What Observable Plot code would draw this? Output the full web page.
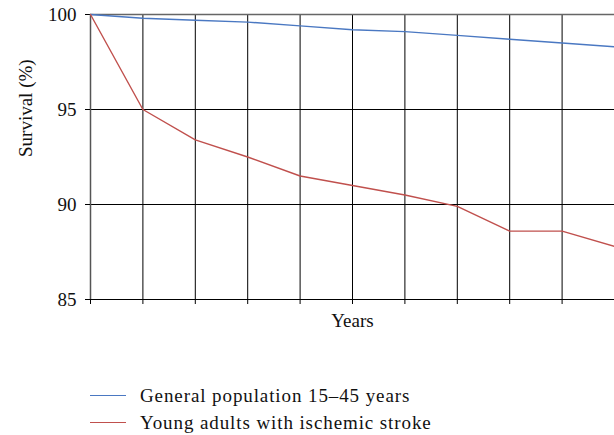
<!DOCTYPE html>
<html>
<head>
<meta charset="utf-8">
<script src="https://cdn.jsdelivr.net/npm/d3@7"></script>
<script src="https://cdn.jsdelivr.net/npm/@observablehq/plot@0.6"></script>
<style>
  html, body { margin: 0; padding: 0; background: #fff; }
  #wrap { position: relative; width: 614px; height: 435px; font-family: "Liberation Serif", "DejaVu Serif", serif; }
  #legend { position: absolute; left: 90px; top: 382px; font-size: 19px; letter-spacing: 0.9px; color: #111; font-family: "Liberation Serif", "DejaVu Serif", serif; }
  .item { display: flex; align-items: center; height: 27px; white-space: nowrap; }
  .swatch { width: 36px; height: 0; border-top: 1.4px solid; margin-right: 14px; }
  svg text { font-family: "Liberation Serif", "DejaVu Serif", serif; }
</style>
</head>
<body>
<div id="wrap">
  <div id="chart"></div>
  <div id="legend"></div>
</div>
<script>
const years = [0, 1, 2, 3, 4, 5, 6, 7, 8, 9, 10];
const generalPopulation = [100, 99.8, 99.7, 99.6, 99.4, 99.2, 99.1, 98.9, 98.7, 98.5, 98.3];
const strokePatients = [100, 95.0, 93.4, 92.5, 91.5, 91.0, 90.5, 89.9, 88.6, 88.6, 87.8];
const yTicks = [85, 90, 95, 100];
const seriesNames = ["General population 15\u201345 years", "Young adults with ischemic stroke"];
const seriesColors = ["#4a78c2", "#c0504d"];

const data = [
  ...years.map((t, i) => ({year: t, value: generalPopulation[i], series: seriesNames[0]})),
  ...years.map((t, i) => ({year: t, value: strokePatients[i], series: seriesNames[1]}))
];

const chart = Plot.plot({
  width: 614,
  height: 345,
  marginLeft: 90,
  marginRight: 0,
  marginTop: 14,
  marginBottom: 46,
  style: {fontFamily: "'Liberation Serif', 'DejaVu Serif', serif", fontSize: "18px", color: "#111", background: "#fff"},
  x: {domain: [0, 10], label: null},
  y: {domain: [85, 100], label: null},
  color: {domain: seriesNames, range: seriesColors},
  marks: [
    Plot.gridX(years, {stroke: "#000", strokeOpacity: 1, strokeWidth: 1}),
    Plot.gridY(yTicks, {stroke: "#000", strokeOpacity: 1, strokeWidth: 1}),
    Plot.ruleY([100], {stroke: "#666", strokeWidth: 1.5}),
    Plot.ruleX([0], {stroke: "#555", strokeWidth: 1.5}),
    Plot.axisY({ticks: yTicks, tickSize: 5, tickPadding: 9, fontSize: 19, label: null, stroke: "#000"}),
    Plot.axisX({ticks: years, tickSize: 5, tickFormat: () => "", label: null, stroke: "#000"}),
    Plot.line(data, {x: "year", y: "value", stroke: "series", strokeWidth: 1.4}),
    Plot.text(["Survival (%)"], {frameAnchor: "left", text: d => d, rotate: -90, dx: -65, fontSize: 19, fill: "#111"}),
    Plot.text(["Years"], {frameAnchor: "bottom", text: d => d, dy: 27, fontSize: 19, fill: "#111"})
  ]
});
document.getElementById("chart").append(chart);

const legend = document.getElementById("legend");
seriesNames.forEach((name, i) => {
  const item = document.createElement("div");
  item.className = "item";
  const sw = document.createElement("span");
  sw.className = "swatch";
  sw.style.borderTopColor = seriesColors[i];
  const label = document.createElement("span");
  label.textContent = name;
  item.append(sw, label);
  legend.append(item);
});
</script>
</body>
</html>
